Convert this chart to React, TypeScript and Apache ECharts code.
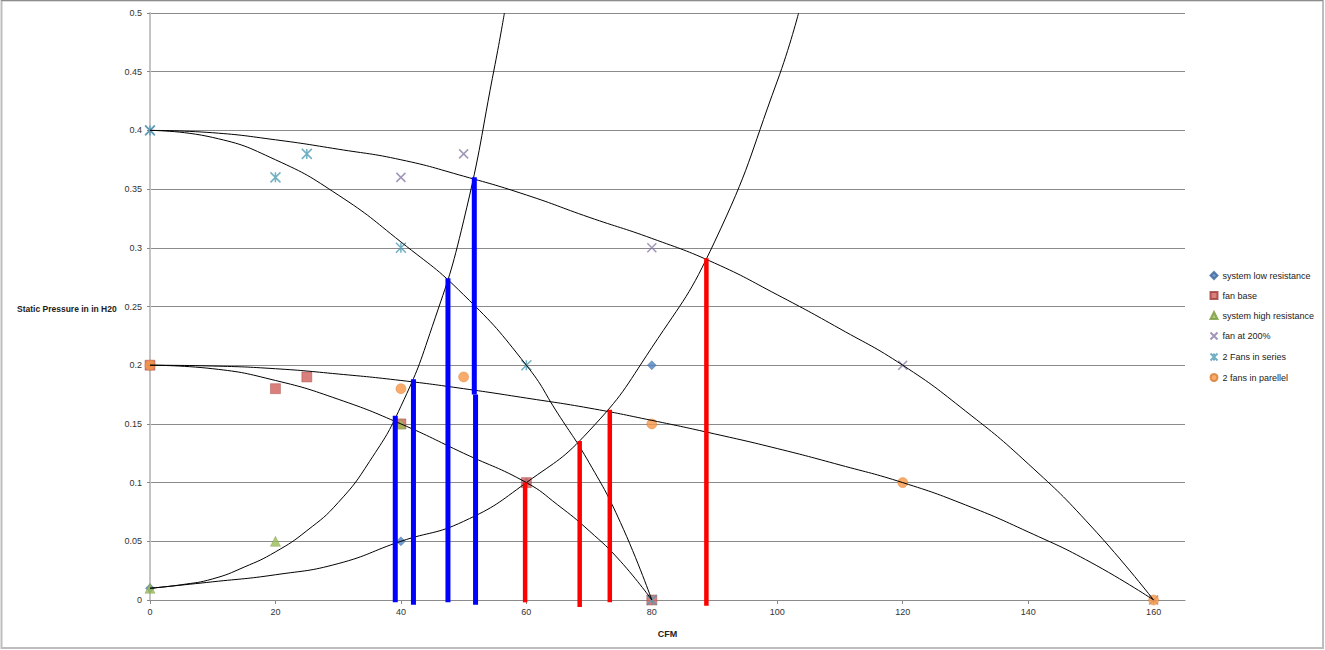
import React, { useEffect, useRef } from "react";
import * as echarts from "echarts";

// ---- tick labels ----
const xTickValues = [0, 20, 40, 60, 80, 100, 120, 140, 160];

// ---- marker series (x = CFM, y = static pressure) ----
const sysLowPts = [[0, 0.01], [40, 0.05], [60, 0.1], [80, 0.2]];
const fanBasePts = [[0, 0.2], [20, 0.18], [25, 0.19], [40, 0.15], [60, 0.1], [80, 0]];
const sysHighPts = [[0, 0.01], [20, 0.05], [40, 0.15]];
const fan200Pts = [[0, 0.4], [40, 0.36], [50, 0.38], [80, 0.3], [120, 0.2], [160, 0]];
const seriesFansPts = [[0, 0.4], [20, 0.36], [25, 0.38], [40, 0.3], [60, 0.2], [80, 0]];
const parallelFansPts = [[0, 0.2], [40, 0.18], [50, 0.19], [80, 0.15], [120, 0.1], [160, 0]];

// ---- smooth curves ----
const curveFanBase = [[0, 0.2], [10, 0.197], [20, 0.187], [30, 0.171], [40, 0.15], [50, 0.125], [60, 0.1], [65, 0.081], [70, 0.059], [75, 0.033], [80, 0]];
const curveSeries = [[0, 0.4], [10, 0.394], [20, 0.375], [30, 0.345], [40, 0.305], [50, 0.26], [60, 0.2], [65, 0.159], [70, 0.117], [75, 0.066], [80, 0]];
const curveFan200 = [[0, 0.4], [10, 0.398], [20, 0.392], [30, 0.384], [40, 0.375], [50, 0.361], [60, 0.345], [70, 0.326], [80, 0.308], [90, 0.287], [100, 0.26], [110, 0.231], [120, 0.2], [130, 0.161], [140, 0.116], [150, 0.063], [160, 0]];
const curveParallel = [[0, 0.2], [10, 0.1993], [20, 0.197], [30, 0.1925], [40, 0.187], [50, 0.18], [60, 0.172], [70, 0.1635], [80, 0.153], [90, 0.1415], [100, 0.129], [110, 0.115], [120, 0.1], [130, 0.081], [140, 0.058], [150, 0.032], [160, 0]];
const curveSysHigh = [[0, 0.01], [5, 0.013], [10, 0.018], [15, 0.028], [20, 0.041], [25, 0.059], [30, 0.083], [35, 0.118], [40, 0.165], [45, 0.233], [50, 0.323], [55, 0.456], [56.5, 0.5]];
const curveSysLow = [[0, 0.01], [10, 0.0155], [20, 0.0215], [30, 0.031], [40, 0.05], [50, 0.067], [60, 0.1], [70, 0.144], [80, 0.215], [90, 0.305], [100, 0.442], [103.4, 0.5]];

// ---- operating-point bars: [x, bottom, top] ----
const blueBars = [[39.1, -0.002, 0.157], [42.0, -0.004, 0.188], [47.5, -0.002, 0.274], [51.7, 0.175, 0.36], [51.9, -0.004, 0.175]];
const redBars = [[59.8, -0.002, 0.1], [68.5, -0.006, 0.1355], [73.3, -0.002, 0.162], [88.7, -0.005, 0.291]];

const FONT = "Liberation Sans, Arial, sans-serif";

export default function App() {
  const ref = useRef<HTMLDivElement>(null);
  useEffect(() => {
    if (!ref.current) return;
    const chart = echarts.init(ref.current, null, { renderer: "svg" });

    const curve = (data: number[][]) => ({
      type: "line",
      data,
      smooth: 0.5,
      symbol: "none",
      silent: true,
      lineStyle: { color: "#000", width: 1 },
      z: 3,
    });
    const bar = (b: number[], color: string, width: number) => ({
      type: "line",
      data: [[b[0], b[1]], [b[0], b[2]]],
      symbol: "none",
      clip: false,
      silent: true,
      lineStyle: { color, width, cap: "butt" },
      z: 5,
    });

    const option: any = {
      animation: false,
      backgroundColor: "#fff",
      grid: { left: 150, top: 13, right: 140, bottom: 50, containLabel: false },
      xAxis: {
        type: "value",
        min: 0,
        max: 165,
        interval: 20,
        name: "CFM",
        nameLocation: "middle",
        nameGap: 29,
        nameTextStyle: { fontFamily: FONT, fontSize: 9, fontWeight: "bold", color: "#222" },
        axisLine: { show: true, lineStyle: { color: "#8a8a8a", width: 1 } },
        axisTick: { show: true, length: 4, customValues: xTickValues, lineStyle: { color: "#8a8a8a" } },
        axisLabel: { customValues: xTickValues, fontFamily: FONT, fontSize: 9, color: "#333", margin: 7 },
        splitLine: { show: false },
      },
      yAxis: {
        type: "value",
        min: 0,
        max: 0.5,
        interval: 0.05,
        axisLine: { show: true, lineStyle: { color: "#c4c4c4", width: 2 } },
        axisTick: { show: true, length: 3, lineStyle: { color: "#8a8a8a" } },
        axisLabel: {
          fontFamily: FONT,
          fontSize: 9,
          color: "#333",
          margin: 8,
          formatter: (v: number) => String(+v.toFixed(2)),
        },
        splitLine: { show: true, lineStyle: { color: "#8a8a8a", width: 1 } },
      },
      legend: {
        orient: "vertical",
        left: 1208,
        top: 270,
        padding: 0,
        itemWidth: 7,
        itemHeight: 7,
        itemGap: 9,
        textStyle: { fontFamily: FONT, fontSize: 9, color: "#222", lineHeight: 11 },
        data: ["system low resistance", "fan base", "system high resistance", "fan at 200%", "2 Fans in series", "2 fans in parellel"],
      },
      graphic: [
        {
          type: "rect",
          shape: { x: 1.5, y: 0.5, width: 1321.5, height: 647.5 },
          style: { fill: "none", stroke: "#bdbdbd", lineWidth: 2 },
          silent: true,
        },
        {
          type: "line",
          shape: { x1: 1, y1: 0.5, x2: 1323, y2: 0.5 },
          style: { stroke: "#8c8c8c", lineWidth: 1 },
          silent: true,
        },
        {
          type: "text",
          x: 17,
          y: 309,
          style: {
            text: "Static Pressure in in H20",
            fontFamily: FONT,
            fontSize: 8.5,
            fontWeight: "bold",
            fill: "#222",
            verticalAlign: "middle",
          },
        },
      ],
      series: [
        {
          name: "system low resistance",
          type: "scatter",
          data: sysLowPts,
          symbol: "diamond",
          symbolSize: 9,
          itemStyle: { color: "#4f81bd", borderColor: "#3a6599", borderWidth: 0.5 },
          z: 2,
        },
        {
          name: "fan base",
          type: "scatter",
          data: fanBasePts,
          symbol: "rect",
          symbolSize: 10,
          itemStyle: { color: "#d0605c", borderColor: "#9e3b38", borderWidth: 0.5 },
          z: 2,
        },
        {
          name: "system high resistance",
          type: "scatter",
          data: sysHighPts,
          symbol: "triangle",
          symbolSize: 10,
          itemStyle: { color: "#9bbb59", borderColor: "#7a9a3e", borderWidth: 0.5 },
          z: 2,
        },
        {
          name: "fan at 200%",
          type: "scatter",
          data: fan200Pts,
          symbol: "path://M0,0L10,10M10,0L0,10",
          symbolSize: 9,
          itemStyle: { color: "none", borderColor: "#8a7ca6", borderWidth: 1.5 },
          z: 2,
        },
        {
          name: "2 Fans in series",
          type: "scatter",
          data: seriesFansPts,
          symbol: "path://M0,0L10,10M10,0L0,10M5,0L5,10",
          symbolSize: 10,
          itemStyle: { color: "none", borderColor: "#4e9bb5", borderWidth: 1.5 },
          z: 2,
        },
        {
          name: "2 fans in parellel",
          type: "scatter",
          data: parallelFansPts,
          symbol: "circle",
          symbolSize: 10,
          itemStyle: { color: "#f79646", borderColor: "#d97a2e", borderWidth: 0.5 },
          z: 2,
        },
        curve(curveFanBase),
        curve(curveSeries),
        curve(curveFan200),
        curve(curveParallel),
        curve(curveSysHigh),
        curve(curveSysLow),
        ...blueBars.map((b) => bar(b, "#0000ff", 5)),
        ...redBars.map((b) => bar(b, "#ff0000", 4.5)),
      ],
    };
    chart.setOption(option);
    return () => chart.dispose();
  }, []);

  return (
    <div
      ref={ref}
      style={{ position: "absolute", left: 0, top: 0, width: 1325, height: 650 }}
    />
  );
}
